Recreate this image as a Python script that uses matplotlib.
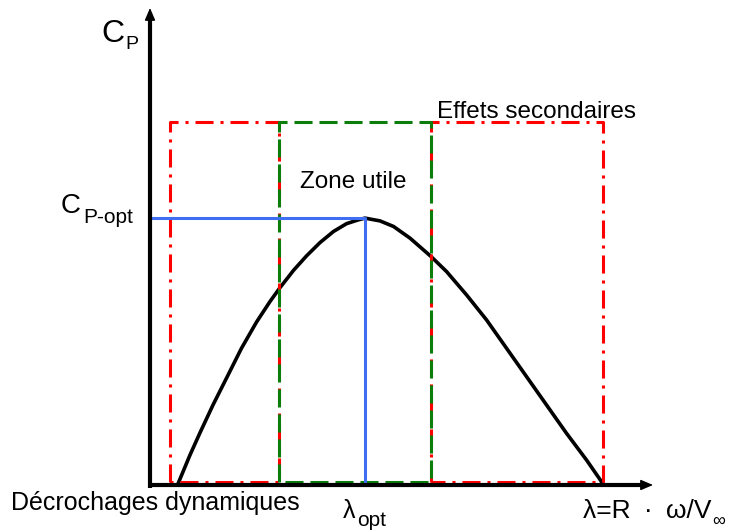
import matplotlib
matplotlib.use('Agg')
import matplotlib.pyplot as plt

plt.rcParams['font.family'] = ['Liberation Sans', 'DejaVu Sans']
plt.rcParams['lines.scale_dashes'] = False

# Cp(lambda) curve
lam = [0.55, 0.80, 1.00, 1.26, 1.54, 1.83, 2.13, 2.40, 2.60, 2.87, 3.13, 3.40,
       3.67, 3.93, 4.17, 4.30, 4.60, 4.87, 5.20, 5.62, 5.93, 6.33, 6.73, 7.13,
       7.53, 7.93, 8.33, 8.73, 9.03, 9.04]
cp = [0.0, 0.054, 0.094, 0.144, 0.194, 0.246, 0.293, 0.330, 0.355, 0.386, 0.412, 0.436,
      0.456, 0.470, 0.477, 0.480, 0.475, 0.465, 0.444, 0.411, 0.384, 0.342, 0.297, 0.246,
      0.195, 0.144, 0.093, 0.045, 0.006, 0.0]

lam_opt = 4.3
cp_opt = 0.48

# zones (lambda start, lambda end)
zone_stall = [0.4, 2.58]
zone_useful = [2.58, 5.62]
zone_second = [5.62, 9.06]
zone_top = 0.653
zone_bottom = 0.006

x_tip = 10.06
y_tip = 0.858

# pixel -> data helper for placing labels (50 px per lambda unit, 556 px per Cp unit)
def px(x, y):
    return (x - 150) / 50.0, (485 - y) / 556.0

fig = plt.figure(figsize=(7.32, 5.31), dpi=100)
ax = fig.add_axes([0, 0, 1, 1])
ax.set_xlim(px(0, 0)[0], px(732, 0)[0])
ax.set_ylim(px(0, 531)[1], px(0, 0)[1])
ax.axis('off')

ax.plot(lam, cp, color='black', lw=2.6, zorder=2, solid_capstyle='round',
        solid_joinstyle='round')

def box(z, color, dashes, zo):
    xs = [z[0], z[0], z[1], z[1], z[0]]
    ys = [zone_bottom, zone_top, zone_top, zone_bottom, zone_bottom]
    ax.plot(xs, ys, color=color, lw=2.2, dashes=dashes, zorder=zo)

box(zone_stall, '#ff0000', (13, 5, 2.2, 5), 3)
box(zone_second, '#ff0000', (13, 5, 2.2, 5), 3)
box(zone_useful, '#0a7d0a', (13, 5), 4)

ax.plot([0, lam_opt, lam_opt], [cp_opt, cp_opt, 0], color='#3f6ef2', lw=2.2, zorder=5)

# axes with arrows
ax.plot([0, 0], [-0.005, y_tip - 0.015], color='black', lw=3, zorder=6, solid_capstyle='butt')
ax.plot([-0.03, 0], [0, 0], color='black', lw=3, zorder=6, solid_capstyle='butt')
ax.plot([0, x_tip - 0.15], [0, 0], color='black', lw=3, zorder=6, solid_capstyle='butt')
head = dict(arrowstyle='-|>,head_length=0.75,head_width=0.32', lw=1, color='black',
            mutation_scale=10, shrinkA=0, shrinkB=0)
ax.annotate('', xy=(0, y_tip), xytext=(0, y_tip - 0.03), arrowprops=head, zorder=7)
ax.annotate('', xy=(x_tip, 0), xytext=(x_tip - 0.3, 0), arrowprops=head, zorder=7)

def label(x, y, s, size, ha='left'):
    xx, yy = px(x, y)
    ax.text(xx, yy, s, fontsize=size, ha=ha, va='baseline', color='black')

label(101, 42, 'C', 23)
label(125, 49, 'P', 14)
label(61, 213, 'C', 20)
label(83, 223, 'P-opt', 15)
label(300, 188, 'Zone utile', 17.5)
label(437, 118, 'Effets secondaires', 17.5)
label(11, 510, 'Décrochages dynamiques', 18)
label(343, 518, 'λ', 18)
label(357, 526, 'opt', 15)
label(712, 518, 'λ=R\u2002·\u2002ω/V', 19, ha='right')
label(712, 526, '∞', 13)

fig.savefig('out.png', dpi=100)
